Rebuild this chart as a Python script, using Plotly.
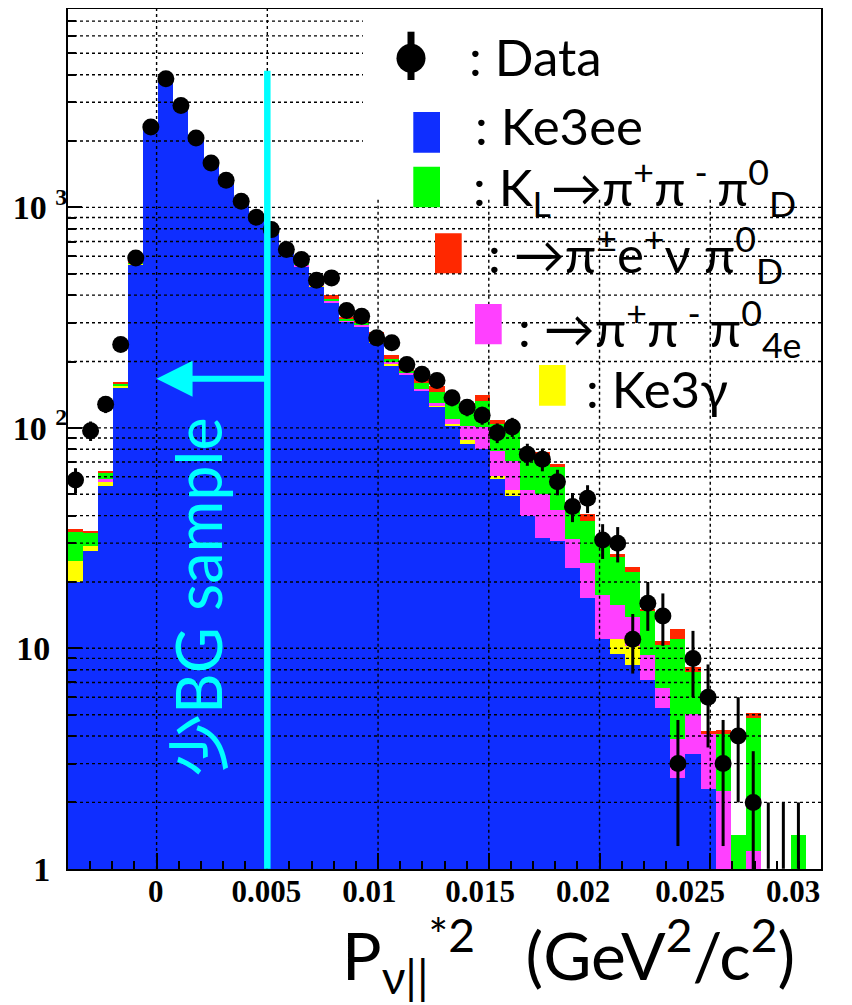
import math
import plotly.graph_objects as go

# ---------------- data ----------------
X_MIN, X_MAX, N_BINS = -0.004, 0.03, 50
BIN_W = (X_MAX - X_MIN) / N_BINS
bin_centers = [X_MIN + BIN_W * (i + 0.5) for i in range(N_BINS)]

data_counts = [58, 97, 128, 239, 590, 2317, 3838, 2897, 2066, 1592,
               1327, 1066, 902, 793, 644, 580, 467, 479, 341, 321,
               256, 243, 194, 175, 164, 137, 124, 114, 95, 101,
               76, 72, 57, 44, 48, 31, 30, 11, 16, 14,
               3, 9, 6, 3, 4, 2, 0, 0, 0, None]

ke3ee = [19.9, 27.6, 54.4, 152, 552, 2310, 3900, 2860, 2070, 1600,
         1300, 1060, 890, 765, 635, 537, 440, 370, 303, 287,
         243, 192, 174, 147, 124.5, 102.8, 84.9, 80.5, 58.5, 49,
         40, 31.8, 30.6, 23.2, 16.9, 11.0, 9.47, 8.44, 7.16, 5.37,
         2.57, 3.30, 2.31, 0, 0, 0, 0, 0, 0, 0]

ke3gamma = [4.9, 1.5, 2.9, 3, 4, 8, 8, 6, 5, 4,
            3, 3, 2, 2, 2, 3, 2, 0, 2, 2,
            4, 4, 0, 0, 1.5, 1.7, 3.5, 0, 1.8, 3.1,
            0, 0, 0, 0, 0, 0, 1.53, 1.76, 0, 0,
            0, 0, 0, 0, 0, 0, 0, 0, 0, 0]

pipipi0_4e = [0, 0, 1.1, 1, 3, 5, 6, 5, 4, 3,
              3, 3, 3, 3, 3, 6, 4, 9, 3, 3,
              3, 2.5, 3, 3.5, 3.5, 5.4, 14, 20.1, 18, 18.5,
              12.5, 18.1, 12, 8.2, 7.5, 6.5, 4.8, 3.7, 2.21, 1.25,
              1.29, 1.76, 1.76, 2.25, 0, 1.20, 0, 0, 0, 0]

kl_pipipi0d = [9.2, 4.3, 4.3, 3, 6, 12, 12, 11, 9, 8,
               7, 7, 6, 7, 6, 14, 7, 7, 6, 8,
               12, 7, 4, 9.5, 16, 22, 22.6, 31.4, 25.3, 27.7,
               21.7, 24.3, 23.9, 13.5, 13.3, 13.6, 10.1, 8.3, 5.33, 3.73,
               7.19, 2.74, 0, 1.82, 1.43, 3.64, 0, 0, 1.43, 0]

pienu_pi0d = [0.6, 0.4, 1.0, 2, 5, 10, 9, 8, 7, 5,
              5, 5, 4, 5, 4, 10, 5, 14, 4, 5,
              9, 9.4, 9, 8.5, 9, 6, 5, 8.6, 4.7, 2,
              3.2, 3.2, 2.1, 1.2, 3.1, 0.9, 1.0, 1.2, 0.4, 0.5,
              1.19, 0.44, 0.14, 0.17, 0, 0.26, 0, 0, 0, 0]

ZERO_BIN_UPPER = 2.0          # upper error drawn for empty data bins
CUT_X = 0.005                 # "BG sample" cut position
CUT_LINE_TOP = 4170
ARROW_LEVEL = 167

x_tick_vals = [0, 0.005, 0.01, 0.015, 0.02, 0.025, 0.03]
x_tick_text = ["0", "0.005", "0.01", "0.015", "0.02", "0.025", "0.03"]
# labels drift left of their ticks in the original: global shift + leading spaces
X_LABEL_SHIFT = -28
x_tick_lead = [7, 7, 5, 5, 3, 2, 0]
y_tick_vals = [1, 10, 100, 1000]
y_tick_text = ["1\u00a0\u00a0", "10\u00a0\u00a0", "10\u00a0<sup>2</sup>", "10\u00a0<sup>3</sup>"]
y_minor_vals = [m * 10 ** d for d in range(4) for m in range(2, 10) if m * 10 ** d < 8000]
x_grid_vals = [0, 0.005, 0.01, 0.015, 0.02, 0.025]
y_grid_vals = y_minor_vals + [10, 100, 1000]

BLUE, YELLOW, MAGENTA, GREEN, RED = "#0F2EFF", "#FFFF00", "#FF40FF", "#00FF00", "#FF2800"
CYAN = "#00FFFF"

# ---------------- figure ----------------
PAGE_W, PAGE_H, OFF = 852, 1005, 8      # page size and the browser's default body margin
W, H = PAGE_W - OFF, PAGE_H - OFF
ML, MR, MT, MB = 68 - OFF, 31, 9 - OFF, 136
PW, PH = W - ML - MR, H - MT - MB
Y_LOG_MAX = 3.9


def px_x(px):
    """page pixel -> paper x"""
    return (px - OFF - ML) / PW


def px_y(py):
    """page pixel -> paper y"""
    return (PAGE_H - MB - py) / PH


fig = go.Figure()

stack = [("Ke3ee", ke3ee, BLUE), ("Ke3γ", ke3gamma, YELLOW),
         ("π+π-π0 4e", pipipi0_4e, MAGENTA), ("KL→π+π-π0 D", kl_pipipi0d, GREEN),
         ("π±e+ν π0 D", pienu_pi0d, RED)]
for name, vals, col in stack:
    fig.add_trace(go.Bar(x=bin_centers, y=vals, width=BIN_W, name=name,
                         marker=dict(color=col, line=dict(width=0)), showlegend=False))

# data points
dx = [c for c, n in zip(bin_centers, data_counts) if n]
dy = [n for n in data_counts if n]
fig.add_trace(go.Scatter(x=dx, y=dy, mode="markers", name="Data", showlegend=False,
                         marker=dict(color="black", size=17),
                         error_y=dict(type="data", array=[math.sqrt(n) for n in dy],
                                      color="black", thickness=3, width=0)))
# empty data bins: only the upper error is drawn
zx = [c for c, n in zip(bin_centers, data_counts) if n == 0]
fig.add_trace(go.Scatter(x=zx, y=[1] * len(zx), mode="markers", showlegend=False,
                         marker=dict(color="rgba(0,0,0,0)", size=1),
                         error_y=dict(type="data", symmetric=False,
                                      array=[ZERO_BIN_UPPER - 1] * len(zx),
                                      arrayminus=[0] * len(zx),
                                      color="black", thickness=3, width=0)))

tickfont = dict(family="Liberation Serif", size=31, color="black", weight="bold")
fig.update_layout(
    width=W, height=H, margin=dict(l=ML, r=MR, t=MT, b=MB),
    paper_bgcolor="white", plot_bgcolor="white",
    barmode="stack", bargap=0, showlegend=False,
    xaxis=dict(range=[X_MIN, X_MAX], tickmode="array", tickvals=x_tick_vals,
               ticktext=["\u00a0" * p + t for t, p in zip(x_tick_text, x_tick_lead)],
               tickangle=0, ticklabelshift=X_LABEL_SHIFT,
               ticks="inside", ticklen=16, tickwidth=1.5, tickcolor="black",
               showline=True, linecolor="black", linewidth=2, mirror=True, automargin=False,
               showgrid=False, zeroline=False, tickfont=tickfont, ticklabelstandoff=-6,
               minor=dict(tick0=0, dtick=0.001, ticks="inside", ticklen=8, tickwidth=1.5,
                          tickcolor="black", showgrid=False)),
    yaxis=dict(type="log", range=[-0.001, Y_LOG_MAX], tickmode="array", tickvals=y_tick_vals,
               ticktext=y_tick_text, ticks="inside", ticklen=14, tickwidth=1.5, tickcolor="black",
               showline=True, linecolor="black", linewidth=2, mirror=True, automargin=False,
               showgrid=False, zeroline=False, tickfont=dict(tickfont, size=34),
               ticklabelstandoff=-8,
               minor=dict(tickmode="array", tickvals=y_minor_vals, ticks="inside", ticklen=8,
                          tickwidth=1.5, tickcolor="black", showgrid=False)),
)

# ---- dotted grid drawn over the histogram (ROOT style) ----
LEG_BOX_LEFT_PX = 363
LEG_BOX_BOTTOM_VAL = 1085
shapes = []
grid_line = dict(color="black", width=1.4, dash="3px,3px")
for v in y_grid_vals:
    x1 = px_x(LEG_BOX_LEFT_PX) if v > LEG_BOX_BOTTOM_VAL else 1
    shapes.append(dict(type="line", xref="paper", yref="y", x0=0, x1=x1, y0=v, y1=v,
                       line=grid_line, layer="above"))
for v in x_grid_vals:
    inside_box = (OFF + ML + (v - X_MIN) / (X_MAX - X_MIN) * PW) > LEG_BOX_LEFT_PX
    if inside_box:
        shapes.append(dict(type="line", xref="x", yref="y", x0=v, x1=v, y0=1, y1=LEG_BOX_BOTTOM_VAL,
                           line=grid_line, layer="above"))
    else:
        shapes.append(dict(type="line", xref="x", yref="paper", x0=v, x1=v, y0=0, y1=1,
                           line=grid_line, layer="above"))

# cut line
shapes.append(dict(type="line", xref="x", yref="y", x0=CUT_X, x1=CUT_X, y0=1, y1=CUT_LINE_TOP,
                   line=dict(color=CYAN, width=6.5), layer="above"))


# ---- legend glyphs (page pixel positions) ----
def rect(x0, x1, y0, y1, col):
    return dict(type="rect", xref="paper", yref="paper", x0=px_x(x0), x1=px_x(x1),
                y0=px_y(y1), y1=px_y(y0), fillcolor=col, line=dict(width=0), layer="above")


shapes.append(dict(type="line", xref="paper", yref="paper", x0=px_x(411), x1=px_x(411),
                   y0=px_y(80), y1=px_y(31.7), line=dict(color="black", width=7), layer="above"))
shapes.append(dict(type="circle", xref="paper", yref="paper", x0=px_x(396.5), x1=px_x(425.5),
                   y0=px_y(72.8), y1=px_y(43.8), fillcolor="black", line=dict(width=0), layer="above"))
shapes.append(rect(413.3, 440, 112, 152.7, BLUE))
shapes.append(rect(413.3, 440, 166.7, 207.3, GREEN))
shapes.append(rect(435, 461.7, 233.3, 273.3, RED))
shapes.append(rect(475, 501.7, 304, 344.3, MAGENTA))
shapes.append(rect(539, 565.7, 365, 405.7, YELLOW))
fig.update_layout(shapes=shapes)

LEG_FONT = dict(family="Lato, 'Open Sans', 'DejaVu Sans'", size=51, color="black")
legend_entries = [
    (467, 76.7, ":\u00a0Data"),
    (473, 145.7, ":\u00a0Ke3ee"),
    (471, 207, ":\u00a0K<sub>L</sub>→π<sup>+</sup>π<sup>\u00a0-\u00a0</sup>π<sup>0</sup><sub>D</sub>"),
    (486, 274, ":\u00a0→π<sup>±</sup>e<sup>+</sup>ν\u00a0π<sup>0</sup><sub>D</sub>"),
    (516, 348, ":\u00a0→π<sup>+</sup>π<sup>\u00a0-\u00a0</sup>π<sup>0</sup><sub>4e</sub>"),
    (584, 408, ":\u00a0Ke3γ"),
]
annotations = []
for x0, base, txt in legend_entries:
    annotations.append(dict(xref="paper", yref="paper", x=px_x(x0), y=px_y(base - 0.387 * LEG_FONT["size"]),
                            xanchor="left", yanchor="middle", text=txt, showarrow=False, font=LEG_FONT))

# axis title
annotations.append(dict(xref="paper", yref="paper", x=px_x(340), y=px_y(955), xanchor="left", yanchor="middle",
                        text="P<sub>ν||</sub><sup>*2</sup>\u00a0\u00a0\u00a0(GeV<sup>2</sup>/c<sup>2</sup>)",
                        showarrow=False, font=dict(family="Lato, 'Open Sans'", size=66, color="black")))
# BG sample label
annotations.append(dict(xref="paper", yref="paper", x=px_x(197), y=px_y(597), textangle=-90,
                        xanchor="center", yanchor="middle",
                        text="少BG sample", showarrow=False,
                        font=dict(family="Lato, 'Noto Sans CJK JP'", size=63, color=CYAN)))
# arrow
annotations.append(dict(xref="x", yref="y", x=0, y=math.log10(ARROW_LEVEL),
                        axref="x", ayref="y", ax=CUT_X, ay=math.log10(ARROW_LEVEL),
                        text="", showarrow=True, arrowhead=2, arrowsize=1.2, arrowwidth=6,
                        arrowcolor=CYAN, standoff=0))
fig.update_layout(annotations=annotations)

fig.write_html("out.html")
